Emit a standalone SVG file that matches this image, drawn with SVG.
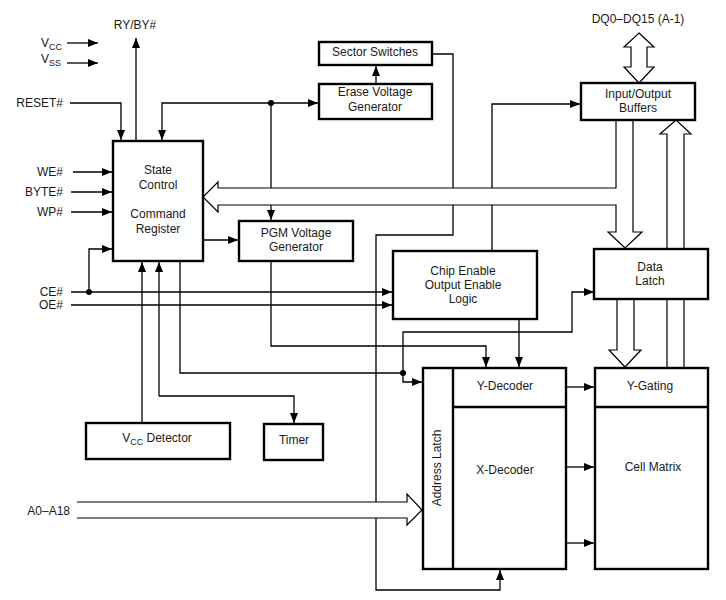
<svg xmlns="http://www.w3.org/2000/svg" width="726" height="600" viewBox="0 0 726 600">
<style>
text{font-family:"Liberation Sans",Arial,sans-serif;font-size:12px;fill:#1a1a1a}
.c{text-anchor:middle}
.r{text-anchor:end}
.box{fill:#fff;stroke:#000;stroke-width:2.4}
.ln{fill:none;stroke:#000;stroke-width:1.3}
.wide{fill:#fff;stroke:#000;stroke-width:1.2;stroke-linejoin:miter}
.sub{font-size:9px}
</style>
<defs>
<marker id="a" viewBox="0 0 10 8" refX="10" refY="4" markerWidth="10" markerHeight="8" markerUnits="userSpaceOnUse" orient="auto">
<path d="M0,0 L10,4 L0,8 Z" fill="#000"/>
</marker>
</defs>
<rect width="726" height="600" fill="#fff"/>

<g id="connectors">
<path class="ln" d="M136,141 V38" marker-end="url(#a)"/>
<path class="ln" d="M67,43 H98" marker-end="url(#a)"/>
<path class="ln" d="M67,63 H98" marker-end="url(#a)"/>
<path class="ln" d="M70,103 H121 V140" marker-end="url(#a)"/>
<path class="ln" d="M271,103 H162 V140" marker-end="url(#a)"/>
<path class="ln" d="M271,103 H318" marker-end="url(#a)"/>
<path class="ln" d="M271,103 V220" marker-end="url(#a)"/>
<circle cx="271" cy="103" r="3" fill="#000"/>
<path class="ln" d="M376,84 V66" marker-end="url(#a)"/>
<path class="ln" d="M432,54 H453 V235 H376 V590 H500 V570" marker-end="url(#a)"/>
<path class="ln" d="M492,251 V104 H580" marker-end="url(#a)"/>
<path class="ln" d="M73,172 H112" marker-end="url(#a)"/>
<path class="ln" d="M71,192 H112" marker-end="url(#a)"/>
<path class="ln" d="M71,212 H112" marker-end="url(#a)"/>
<path class="ln" d="M71,292 H392" marker-end="url(#a)"/>
<path class="ln" d="M71,305 H392" marker-end="url(#a)"/>
<path class="ln" d="M89,292 V249 H112" marker-end="url(#a)"/>
<circle cx="89" cy="292" r="3" fill="#000"/>
<path class="ln" d="M203,240 H238" marker-end="url(#a)"/>
<path class="ln" d="M271,261 V346 H486 V367" marker-end="url(#a)"/>
<path class="ln" d="M519,319 V367" marker-end="url(#a)"/>
<path class="ln" d="M142,423 V262" marker-end="url(#a)"/>
<path class="ln" d="M159,396 V262" marker-end="url(#a)"/>
<path class="ln" d="M159,396 H294 V423" marker-end="url(#a)"/>
<path class="ln" d="M180,261 V373 H403"/>
<circle cx="403" cy="373" r="3" fill="#000"/>
<path class="ln" d="M403,373 V332 H572 V292 H594" marker-end="url(#a)"/>
<path class="ln" d="M403,373 V382 H422" marker-end="url(#a)"/>
<path class="ln" d="M566,387 H594" marker-end="url(#a)"/>
<path class="ln" d="M566,467 H594" marker-end="url(#a)"/>
<path class="ln" d="M566,543 H594" marker-end="url(#a)"/>
<!-- wide arrows -->
<path class="wide" d="M639,33 L654,47 L647,47 L647,67 L654,67 L639,83 L624,67 L631,67 L631,47 L624,47 Z"/>
<path class="wide" d="M616,120 V188 H218 V182 L203,197 L218,212 V205 H616 V232 H608 L625,248 L642,232 H633 V120"/>
<path class="wide" d="M667,368 V134 H660 L676,120 L691,134 H684 V368"/>
<path class="wide" d="M617,299 V350 H609 L625,367 L641,350 H634 V299"/>
<path class="wide" d="M77,502 H407 V494 L422,510 L407,525 V518 H77"/>
</g>

<g id="labels">
<text x="135" y="29" class="c">RY/BY#</text>
<text x="41" y="47">V<tspan class="sub" dy="3">CC</tspan></text>
<text x="41" y="63">V<tspan class="sub" dy="3">SS</tspan></text>
<text x="63" y="107" class="r">RESET#</text>
<text x="63" y="176" class="r">WE#</text>
<text x="63" y="196" class="r">BYTE#</text>
<text x="63" y="216" class="r">WP#</text>
<text x="63" y="296" class="r">CE#</text>
<text x="63" y="309" class="r">OE#</text>
<text x="638" y="23" class="c">DQ0–DQ15 (A-1)</text>
<text x="70" y="515" class="r">A0–A18</text>
</g>

<g id="state-control">
<rect class="box" x="113" y="141" width="90" height="120"/>
<text x="158" y="174" class="c">State</text>
<text x="158" y="189" class="c">Control</text>
<text x="158" y="218" class="c">Command</text>
<text x="158" y="233" class="c">Register</text>
</g>
<g id="sector-switches">
<rect class="box" x="319" y="42" width="113" height="23"/>
<text x="375" y="56" class="c">Sector Switches</text>
</g>
<g id="erase-voltage-generator">
<rect class="box" x="319" y="84" width="113" height="35"/>
<text x="375" y="96" class="c">Erase Voltage</text>
<text x="375" y="111" class="c">Generator</text>
</g>
<g id="pgm-voltage-generator">
<rect class="box" x="239" y="221" width="114" height="40"/>
<text x="296" y="237" class="c">PGM Voltage</text>
<text x="296" y="251" class="c">Generator</text>
</g>
<g id="io-buffers">
<rect class="box" x="581" y="83" width="114" height="37"/>
<text x="638" y="98" class="c">Input/Output</text>
<text x="638" y="112" class="c">Buffers</text>
</g>
<g id="chip-enable-logic">
<rect class="box" x="393" y="251" width="144" height="68"/>
<text x="463" y="275" class="c">Chip Enable</text>
<text x="463" y="289" class="c">Output Enable</text>
<text x="463" y="303" class="c">Logic</text>
</g>
<g id="data-latch">
<rect class="box" x="594" y="249" width="114" height="50"/>
<text x="650" y="271" class="c">Data</text>
<text x="650" y="285" class="c">Latch</text>
</g>
<g id="vcc-detector">
<rect class="box" x="86" y="423" width="144" height="36"/>
<text x="157" y="442" class="c">V<tspan class="sub" dy="3">CC</tspan><tspan dy="-3"> Detector</tspan></text>
</g>
<g id="timer">
<rect class="box" x="264" y="424" width="59" height="36"/>
<text x="294" y="444" class="c">Timer</text>
</g>
<g id="decoders">
<rect class="box" x="423" y="368" width="143" height="201"/>
<line x1="453" y1="368" x2="453" y2="569" stroke="#000" stroke-width="2.4"/>
<line x1="453" y1="407" x2="566" y2="407" stroke="#000" stroke-width="2.4"/>
<text x="505" y="390" class="c">Y-Decoder</text>
<text x="505" y="474" class="c">X-Decoder</text>
<text transform="translate(441,468) rotate(-90)" class="c">Address Latch</text>
</g>
<g id="cell-matrix">
<rect class="box" x="595" y="368" width="113" height="201"/>
<line x1="595" y1="407" x2="708" y2="407" stroke="#000" stroke-width="2.4"/>
<text x="650" y="390" class="c">Y-Gating</text>
<text x="653" y="471" class="c">Cell Matrix</text>
</g>
</svg>
